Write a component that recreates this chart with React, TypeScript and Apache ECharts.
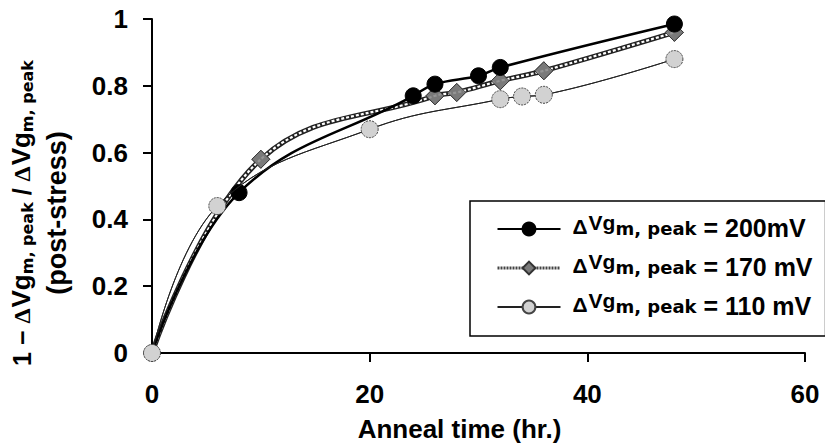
import React, { useEffect, useRef } from "react";
import * as echarts from "echarts";

const seriesNames = ["200mV", "170 mV", "110 mV"];
const xTicks = [0, 20, 40, 60];
const yTicks = [0, 0.2, 0.4, 0.6, 0.8, 1];

const hours200 = [0, 8, 24, 26, 30, 32, 48];
const vals200 = [0, 0.48, 0.77, 0.805, 0.83, 0.855, 0.985];

const hours170 = [0, 10, 26, 28, 32, 36, 48];
const vals170 = [0, 0.58, 0.77, 0.78, 0.815, 0.845, 0.96];

const hours110 = [0, 6, 20, 32, 34, 36, 48];
const vals110 = [0, 0.44, 0.67, 0.76, 0.768, 0.773, 0.88];

const pairs = (xs: number[], ys: number[]) => xs.map((x, i) => [x, ys[i]]);

const FONT = "'Liberation Sans', Arial, sans-serif";
const WIDE = "'DejaVu Sans', 'Liberation Sans', sans-serif";
const SERIF = "'Liberation Serif', 'DejaVu Serif', serif";

export default function App() {
  const ref = useRef<HTMLDivElement>(null);
  useEffect(() => {
    if (!ref.current) return;
    const chart = echarts.init(ref.current, undefined, { renderer: "svg" });
    const LH = 28;
    const legendRich = {
      delta: { fontFamily: FONT, fontSize: 21, fontWeight: "bold", color: "#000", verticalAlign: "bottom", lineHeight: LH, padding: [0, 1, 6, 7] },
      vg: { fontFamily: FONT, fontSize: 21, fontWeight: "bold", color: "#000", verticalAlign: "bottom", lineHeight: LH, padding: [0, 0, 10, 0] },
      sub: { fontFamily: WIDE, fontSize: 18, fontWeight: "bold", color: "#000", verticalAlign: "bottom", lineHeight: LH, padding: [0, 0, 6, 0] },
      val: { fontFamily: FONT, fontSize: 25, fontWeight: "bold", color: "#000", verticalAlign: "bottom", lineHeight: LH, padding: [0, 0, 3, 0] },
    };
    const TL = 35;
    const titleRich = {
      a: { fontFamily: FONT, fontSize: 25, fontWeight: "bold", color: "#000", lineHeight: TL, verticalAlign: "bottom", padding: [0, 0, 1, 0] },
      d: { fontFamily: SERIF, fontSize: 24, fontWeight: "bold", color: "#000", lineHeight: TL, verticalAlign: "bottom", padding: [0, 1, 1, 0] },
      v: { fontFamily: FONT, fontSize: 26, fontWeight: "bold", color: "#000", lineHeight: TL, verticalAlign: "bottom", padding: [0, 0, 1, 0] },
      s: { fontFamily: WIDE, fontSize: 16, fontWeight: "bold", color: "#000", lineHeight: TL, verticalAlign: "bottom" },
      p: { fontFamily: FONT, fontSize: 27, fontWeight: "bold", color: "#000", lineHeight: TL, verticalAlign: "bottom" },
    };
    chart.setOption({
      animation: false,
      backgroundColor: "#fff",
      grid: { left: 151, right: 20, top: 19, bottom: 92, containLabel: false },
      xAxis: {
        type: "value",
        min: 0,
        max: 60,
        interval: 20,
        name: "Anneal time (hr.)",
        nameLocation: "middle",
        nameGap: 63,
        nameTextStyle: { fontFamily: FONT, fontSize: 26, fontWeight: "bold", color: "#000", padding: [0, 38, 0, 0] },
        axisLine: { lineStyle: { color: "#000", width: 2 } },
        axisTick: { show: true, inside: false, length: 9, lineStyle: { color: "#000", width: 2 } },
        axisLabel: { margin: 28, fontFamily: FONT, fontSize: 26, fontWeight: "bold", color: "#000", formatter: (v: number) => (xTicks.includes(v) ? String(v) : "") },
        splitLine: { show: false },
      },
      yAxis: {
        type: "value",
        min: 0,
        max: 1,
        interval: 0.2,
        name:
          "{a|1 − }{d|Δ}{v|Vg}{s|m, peak}{a| / }{d|Δ}{v|Vg}{s|m, peak}\n{p|(post-stress)}",
        nameLocation: "middle",
        nameRotate: 90,
        nameGap: 82,
        nameTextStyle: { align: "center", rich: titleRich, padding: [0, 54, 0, 0] },
        axisLine: { show: true, lineStyle: { color: "#000", width: 2 } },
        axisTick: { show: true, inside: false, length: 9, lineStyle: { color: "#000", width: 2 } },
        axisLabel: {
          margin: 24,
          fontFamily: FONT,
          fontSize: 26,
          fontWeight: "bold",
          color: "#000",
          formatter: (v: number) => {
            const t = yTicks.find((y) => Math.abs(y - v) < 1e-9);
            return t === undefined ? "" : String(t);
          },
        },
        splitLine: { show: false },
      },
      legend: {
        orient: "vertical",
        left: 470,
        top: 201,
        itemWidth: 63,
        itemHeight: 16,
        itemGap: 8,
        padding: [11, 13, 15, 26],
        borderColor: "#000",
        borderWidth: 1.5,
        backgroundColor: "#fff",
        textStyle: { lineHeight: LH, rich: legendRich },
        formatter: (name: string) => `{delta|Δ}{vg|Vg}{sub|m, peak}{val| = ${name}}`,
        data: [
          { name: seriesNames[0] },
          { name: seriesNames[1], lineStyle: { color: "#444", width: 3, type: [2, 1] } },
          { name: seriesNames[2] },
        ],
      },
      series: [
        {
          name: seriesNames[2] + "_line",
          type: "line",
          data: pairs(hours110, vals110),
          smooth: 0.4,
          showSymbol: false,
          silent: true,
          lineStyle: { color: "#222", width: 1 },
          z: 2,
        },
        {
          name: seriesNames[1],
          type: "line",
          data: pairs(hours170, vals170),
          smooth: 0.4,
          symbol: "diamond",
          symbolSize: 18,
          itemStyle: { color: "#7a7a7a", borderColor: "#333", borderWidth: 1 },
          lineStyle: { color: "#222", width: 5 },
          z: 3,
        },
        {
          name: "170_chain",
          type: "line",
          data: pairs(hours170, vals170),
          smooth: 0.4,
          showSymbol: false,
          silent: true,
          lineStyle: { color: "#fff", width: 2.2, type: [3, 2] },
          z: 4,
        },
        {
          name: "170_marks",
          type: "scatter",
          data: pairs(hours170, vals170),
          symbol: "diamond",
          symbolSize: 18,
          silent: true,
          itemStyle: { color: "#7a7a7a", borderColor: "#333", borderWidth: 1 },
          z: 5,
        },
        {
          name: seriesNames[0],
          type: "line",
          data: pairs(hours200, vals200),
          smooth: 0.4,
          symbol: "circle",
          symbolSize: 16,
          itemStyle: { color: "#000", borderColor: "#000", borderWidth: 1 },
          lineStyle: { color: "#000", width: 2.5 },
          z: 6,
        },
        {
          name: seriesNames[2],
          type: "line",
          data: pairs(hours110, vals110),
          smooth: 0.4,
          symbol: "circle",
          symbolSize: 17,
          itemStyle: { color: "#d2d2d2", borderColor: "#444", borderWidth: 1, borderType: [2, 1] },
          lineStyle: { color: "#222", width: 1 },
          z: 7,
        },
      ],
    });
    return () => chart.dispose();
  }, []);
  return <div ref={ref} style={{ width: 825, height: 447, position: "absolute", left: 0, top: 0 }} />;
}
